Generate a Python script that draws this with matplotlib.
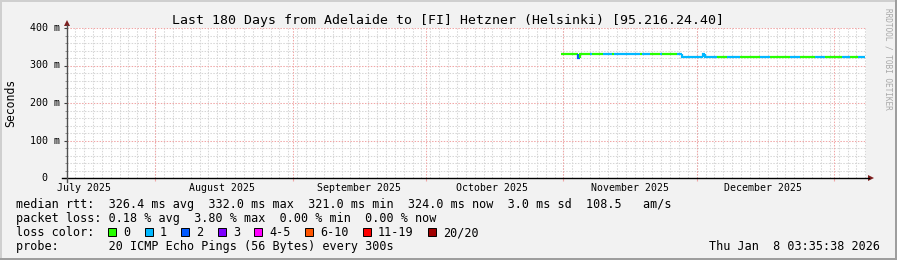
import matplotlib
matplotlib.use("Agg")
import matplotlib.pyplot as plt
import matplotlib.dates as mdates
import matplotlib.transforms as mtrans
from matplotlib.patches import Rectangle, Polygon
from matplotlib.lines import Line2D
import pandas as pd

W, H = 897, 260
MONO = "DejaVu Sans Mono"

# ---------------- data ----------------
title = "Last 180 Days from Adelaide to [FI] Hetzner (Helsinki) [95.216.24.40]"
y_label = "Seconds"
y_ticks = [0, 100, 200, 300, 400]
y_tick_labels = ["0", "100 m", "200 m", "300 m", "400 m"]
period_start = "2025-07-12 03:35:38"
period_end = "2026-01-08 03:35:38"
month_starts = ["2025-07-01", "2025-08-01", "2025-09-01", "2025-10-01",
                "2025-11-01", "2025-12-01", "2026-01-01"]
month_labels = ["July 2025", "August 2025", "September 2025", "October 2025",
                "November 2025", "December 2025"]

# median rtt (ms) as step series: segment start times, value, lost pings
seg_start = ["2025-10-31 10:00", "2025-11-04 06:00", "2025-11-04 17:00",
             "2025-11-07 00:00", "2025-11-07 12:00", "2025-11-09 22:00",
             "2025-11-11 22:00", "2025-11-12 09:00", "2025-11-18 06:00",
             "2025-11-18 18:00", "2025-11-20 12:00", "2025-11-22 18:00",
             "2025-11-23 05:00", "2025-11-26 14:00", "2025-11-27 17:00",
             "2025-12-02 10:00", "2025-12-02 21:00", "2025-12-05 14:00",
             "2025-12-07 20:00", "2025-12-10 18:00", "2025-12-15 06:00",
             "2025-12-17 12:00", "2025-12-22 00:00", "2025-12-24 06:00",
             "2025-12-27 16:00", "2025-12-29 22:00", "2026-01-02 18:00",
             "2026-01-04 13:00", "2026-01-06 08:00"]
seg_last_end = "2026-01-07 23:00"
seg_median = [329.5, 321.0, 329.5, 329.5, 329.5, 329.5, 329.5, 329.5, 329.5,
              329.5, 329.5, 329.5, 329.5, 329.5, 323.5, 331.0, 324.0, 324.0,
              324.0, 324.0, 324.0, 324.0, 324.0, 324.0, 324.0, 324.0, 324.0,
              324.0, 324.0]
seg_loss = [0, 2, 0, 1, 0, 1, 0, 1, 0, 1, 0, 1, 0, 1, 1, 1, 1, 0, 1, 0, 1, 0,
            1, 0, 1, 0, 1, 0, 1]

loss_labels = ["0", "1", "2", "3", "4-5", "6-10", "11-19", "20/20"]
loss_colors = ["#26ff00", "#00b8ff", "#0059ff", "#7e00ff", "#ff00ff",
               "#ff5500", "#ff0000", "#a10000"]
loss_upper = [0, 1, 2, 3, 5, 10, 19, 20]

stats_rtt = "median rtt:  326.4 ms avg  332.0 ms max  321.0 ms min  324.0 ms now  3.0 ms sd  108.5   am/s"
stats_loss = "packet loss: 0.18 % avg  3.80 % max  0.00 % min  0.00 % now"
loss_title = "loss color:"
probe_txt = "probe:       20 ICMP Echo Pings (56 Bytes) every 300s"
date_txt = "Thu Jan  8 03:35:38 2026"
watermark = "RRDTOOL / TOBI OETIKER"

# ---------------- helpers ----------------
def FX(px):
    return px / W

def FY(py):
    return 1 - py / H

def loss_color(n):
    for up, c in zip(loss_upper, loss_colors):
        if n <= up:
            return c
    return loss_colors[-1]

fig = plt.figure(figsize=(W / 100, H / 100), dpi=100, facecolor="#f2f2f2")

# frame shading
fig.add_artist(Rectangle((0, FY(2)), 1, 2 / H, transform=fig.transFigure,
                         facecolor="#cfcfcf", edgecolor="none"))
fig.add_artist(Rectangle((0, 0), 2 / W, 1, transform=fig.transFigure,
                         facecolor="#cfcfcf", edgecolor="none"))
fig.add_artist(Rectangle((0, 0), 1, 2 / H, transform=fig.transFigure,
                         facecolor="#9e9e9e", edgecolor="none"))
fig.add_artist(Rectangle((FX(W - 2), 0), 2 / W, 1, transform=fig.transFigure,
                         facecolor="#9e9e9e", edgecolor="none"))

L, R, T, B = 67, 866, 28, 178
ax = fig.add_axes([FX(L), FY(B), (R - L) / W, (B - T) / H])
ax.set_facecolor("white")
x0 = mdates.date2num(pd.Timestamp(period_start))
x1 = mdates.date2num(pd.Timestamp(period_end))
ax.set_xlim(x0, x1)
ax.set_ylim(0, 400)
for s in ax.spines.values():
    s.set_visible(False)

minor_c = "#d6d6d6"
major_c = "#f0a6a6"
dash = (0, (1.4, 1.4))

# horizontal grid
for v in range(20, 401, 20):
    if v % 100 == 0:
        ax.axhline(v, color=major_c, lw=0.75, ls=dash, zorder=1.1)
    else:
        ax.axhline(v, color=minor_c, lw=0.75, ls=dash, zorder=1)

# vertical grid: minor every 2 days, major at month starts
mstarts = [mdates.date2num(pd.Timestamp(m)) for m in month_starts]
ref = mdates.date2num(pd.Timestamp("2025-08-01"))
d = ref
while d > x0:
    d -= 2
minor_pos = []
while d < x1:
    if d > x0:
        minor_pos.append(d)
    d += 2
for p in minor_pos:
    ax.axvline(p, color=minor_c, lw=0.75, ls=dash, zorder=1)
for p in mstarts:
    if x0 < p < x1:
        ax.axvline(p, color=major_c, lw=0.75, ls=dash, zorder=1.1)

# ticks
ax.set_yticks(y_ticks)
ax.set_yticks(range(0, 401, 20), minor=True)
ax.set_xticks([p for p in mstarts if x0 < p < x1])
ax.set_xticks([], minor=True)
ax.tick_params(axis="y", which="major", length=2.4, width=0.8, color="#404040",
               labelleft=False, direction="out")
ax.tick_params(axis="y", which="minor", length=1.4, width=0.7, color="#909090",
               direction="out")
ax.tick_params(axis="x", which="major", length=2.0, width=0.8, color=major_c,
               labelbottom=False, direction="out")

# median line with loss colours
t = [mdates.date2num(pd.Timestamp(s)) for s in seg_start] + \
    [mdates.date2num(pd.Timestamp(seg_last_end))]
for i in range(len(seg_median)):
    prev = seg_median[i - 1] if i > 0 else seg_median[i]
    ax.plot([t[i], t[i], t[i + 1]], [prev, seg_median[i], seg_median[i]],
            color=loss_color(seg_loss[i]), lw=1.6, solid_capstyle="butt",
            solid_joinstyle="miter", zorder=3)

# axis lines and arrows
fig.add_artist(Line2D([FX(62), FX(869)], [FY(178), FY(178)], color="black",
                      lw=1.0, transform=fig.transFigure))
fig.add_artist(Line2D([FX(67), FX(67)], [FY(182), FY(25)], color="#505050",
                      lw=1.0, transform=fig.transFigure))
fig.add_artist(Polygon([(FX(868), FY(175)), (FX(874), FY(178)), (FX(868), FY(181))],
                       closed=True, transform=fig.transFigure,
                       facecolor="#7f1f1f", edgecolor="none"))
fig.add_artist(Polygon([(FX(64), FY(26)), (FX(67), FY(20)), (FX(70), FY(26))],
                       closed=True, transform=fig.transFigure,
                       facecolor="#7f1f1f", edgecolor="none"))

# y tick labels
ytr = mtrans.blended_transform_factory(fig.transFigure, ax.transData)
for v, lab in zip(y_ticks, y_tick_labels):
    xr = 60 if lab.endswith("m") else 47
    ax.text(FX(xr), v, lab, transform=ytr, ha="right", va="center",
            fontsize=7.2, family=MONO, color="black")

# month labels (centered mid-month)
xtr = mtrans.blended_transform_factory(ax.transData, fig.transFigure)
for m, lab in zip(month_starts, month_labels):
    c = mdates.date2num(pd.Timestamp(m) + pd.Timedelta(days=15))
    ax.text(c, FY(191), lab, transform=xtr, ha="center", va="baseline",
            fontsize=7.1, family=MONO, color="black", clip_on=False)

# title, axis label, watermark
fig.text(FX(447.5), FY(24), title, ha="center", va="baseline", fontsize=9.55,
         family=MONO, color="black")
fig.text(FX(11), FY(102.5), y_label, ha="center", va="center", rotation=90,
         fontsize=8.3, family=MONO, color="black")
fig.text(FX(888), FY(59), watermark, ha="center", va="center", rotation=270,
         fontsize=5.6, family=MONO, color="#a8a8a8")

# legend lines
LF = 8.5
fig.text(FX(16), FY(208), stats_rtt, ha="left", va="baseline", fontsize=LF,
         family=MONO, color="black")
fig.text(FX(16), FY(222), stats_loss, ha="left", va="baseline", fontsize=LF,
         family=MONO, color="black")
fig.text(FX(16), FY(236), loss_title, ha="left", va="baseline", fontsize=LF,
         family=MONO, color="black")
xs = 108.0
for lab, col in zip(loss_labels, loss_colors):
    fig.add_artist(Rectangle((FX(xs), FY(236)), 8 / W, 8 / H,
                             transform=fig.transFigure, facecolor=col,
                             edgecolor="black", lw=0.7))
    fig.text(FX(xs + 15), FY(236), lab, ha="left", va="baseline", fontsize=LF,
             family=MONO, color="black")
    xs += 29.5 + 7.1 * len(lab)
fig.text(FX(16), FY(250), probe_txt, ha="left", va="baseline", fontsize=LF,
         family=MONO, color="black")
fig.text(FX(880), FY(250), date_txt, ha="right", va="baseline", fontsize=LF,
         family=MONO, color="black")

fig.savefig("out.png", dpi=100, facecolor=fig.get_facecolor())
